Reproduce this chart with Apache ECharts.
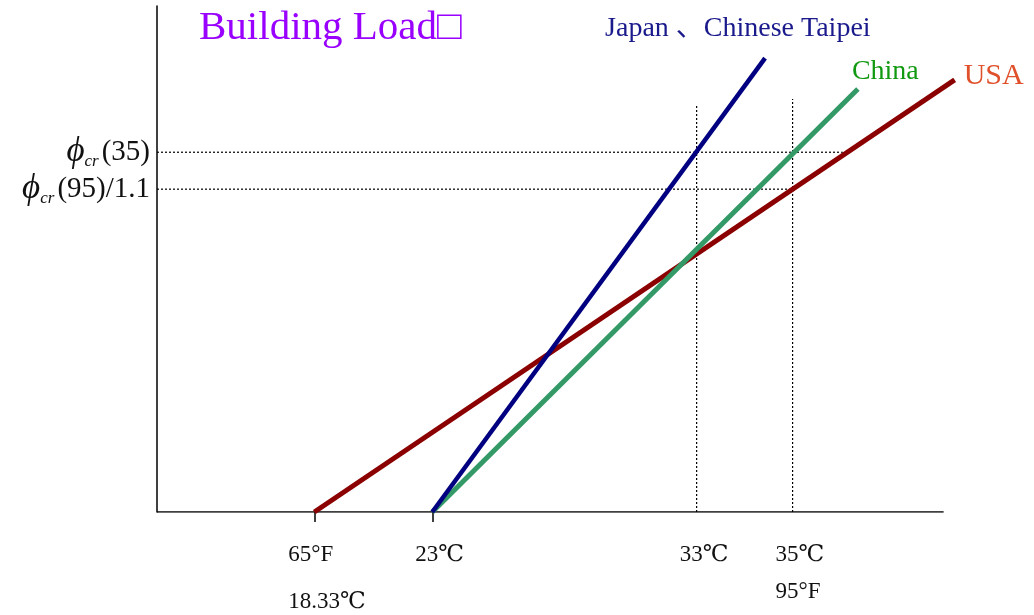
<!DOCTYPE html>
<html>
<head>
<meta charset="utf-8">
<script src="https://cdn.jsdelivr.net/npm/echarts@6/dist/echarts.min.js"></script>
<style>html,body{margin:0;padding:0;background:#fff}#c{width:1034px;height:615px}</style>
</head>
<body>
<div id="c"></div>
<script>
// Schematic scale (abstract units on both axes)
const titleText = 'Building Load\u25A1';
const seriesNames = ['Japan \u3001Chinese Taipei', 'China', 'USA'];
// each series: [x, y] start and end (schematic units)
const japanLine = [[35, 0], [77.3, 89.7]];
const chinaLine = [[35, 0], [89.1, 83.6]];
const usaLine = [[20, 0], [101.4, 85.4]];
// visible extent of the horizontal axis
const baseLine = [[0, 0], [100, 0]];
// reference levels
const phiLevels = [71.1, 63.8];          // phi_cr(35), phi_cr(95)/1.1
const phiLevelEnds = [87.2, 80.8];
const tempMarks = [68.6, 80.8];         // 33C, 35C
const tempMarkTops = [80.4, 81.6];
// x tick labels
const xTickValues = [20, 35, 68.6, 80.8];
const xTickLabels = ['{w|65°F}\n{wb|18.33℃}', '{a|23℃}', '{a|33℃}', '{a|35℃}\n{c|95°F}'];
const xTickMarks = [20, 35];
const yTickLabels = ['{p|ϕ}{s|cr}{n|(35)}', '{p|ϕ}{s|cr}{n|(95)/1.1}'];

const serif = '"Liberation Serif", "DejaVu Serif", "Noto Sans CJK SC", serif';

const dotted = [];
phiLevels.forEach((v, i) => {
  dotted.push({type: 'line', data: [[0, v], [phiLevelEnds[i], v]], symbol: 'none', silent: true, z: 1,
    lineStyle: {color: '#000', width: 1.2, type: [2, 2]}});
});
tempMarks.forEach((v, i) => {
  dotted.push({type: 'line', data: [[v, 0], [v, tempMarkTops[i]]], symbol: 'none', silent: true, z: 1,
    lineStyle: {color: '#000', width: 1.2, type: [2, 2]}});
});
dotted.push({type: 'line', data: baseLine, symbol: 'none', silent: true, z: 2,
  lineStyle: {color: '#000', width: 1.5}});

function mainLine(name, data, color, width, labelColor, fontSize, offset) {
  return {
    type: 'line', name: name, data: data, symbol: 'none', clip: false, z: 5,
    lineStyle: {color: color, width: width, cap: 'butt'},
    endLabel: {show: true, formatter: name, color: labelColor, fontSize: fontSize,
      fontFamily: serif, offset: offset, distance: 0, align: 'left', verticalAlign: 'middle'}
  };
}

const lbl = {fontFamily: serif, fontSize: 23, color: '#111', align: 'left'};
const chart = echarts.init(document.getElementById('c'));
chart.setOption({
  animation: false,
  backgroundColor: '#fff',
  title: {text: titleText, left: 194, top: 3,
    textStyle: {color: '#9900FF', fontFamily: serif, fontSize: 41, fontWeight: 'normal'}},
  grid: {left: 157, top: 6, right: 77, bottom: 103},
  xAxis: {
    type: 'value', min: 0, max: 101.7,
    axisLine: {show: false},
    splitLine: {show: false},
    axisTick: {show: true, customValues: xTickMarks, length: 10, inside: false, lineStyle: {color: '#000', width: 1.5}},
    axisLabel: {
      customValues: xTickValues, margin: 23,
      formatter: function (v) { return xTickLabels[xTickValues.indexOf(v)] || ''; },
      rich: {
        w: Object.assign({}, lbl, {width: 52, lineHeight: 40}),
        wb: Object.assign({}, lbl, {width: 52, lineHeight: 54}),
        a: Object.assign({}, lbl, {width: 34, lineHeight: 40}),
        c: Object.assign({}, lbl, {width: 34, lineHeight: 34})
      }
    }
  },
  yAxis: {
    type: 'value', min: 0, max: 100,
    axisLine: {show: true, onZero: false, lineStyle: {color: '#000', width: 1.5}},
    splitLine: {show: false},
    axisTick: {show: false},
    axisLabel: {
      customValues: phiLevels, margin: 7,
      formatter: function (v) { return yTickLabels[phiLevels.indexOf(v)] || ''; },
      rich: {
        p: {fontFamily: serif, fontStyle: 'italic', fontSize: 35, color: '#111', lineHeight: 36},
        s: {fontFamily: serif, fontStyle: 'italic', fontSize: 17, color: '#111', verticalAlign: 'bottom', padding: [0, 3, 0, 0]},
        n: {fontFamily: serif, fontSize: 29, color: '#111', lineHeight: 36}
      }
    }
  },
  series: dotted.concat([
    mainLine(seriesNames[2], usaLine, '#8B0000', 5, '#E0502A', 30, [9, -4]),
    mainLine(seriesNames[1], chinaLine, '#339966', 5, '#119911', 28, [-6, -17]),
    mainLine(seriesNames[0], japanLine, '#000080', 4.5, '#1A1A8C', 28, [-160, -29])
  ])
});
</script>
</body>
</html>
